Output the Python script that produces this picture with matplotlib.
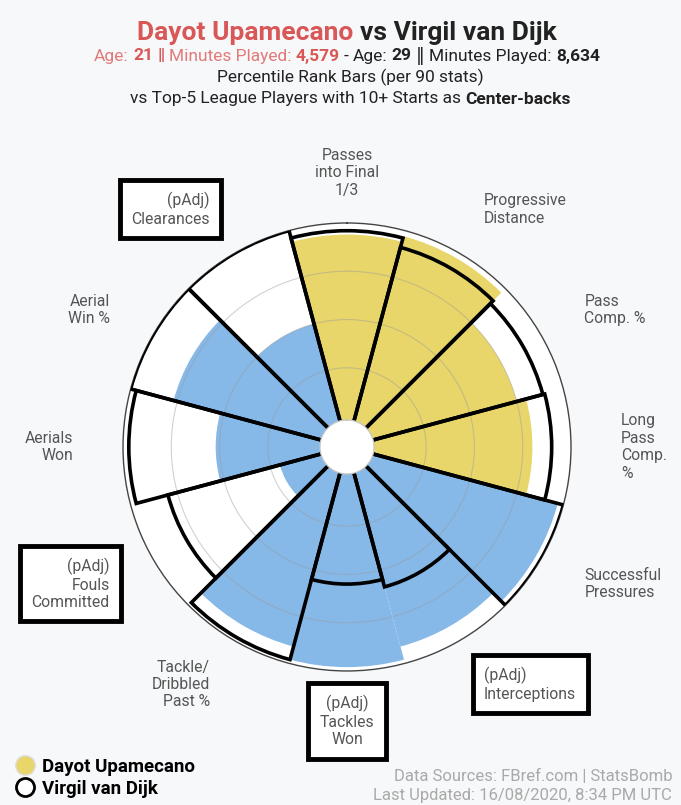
import numpy as np
import matplotlib.pyplot as plt
from matplotlib.lines import Line2D

plt.rcParams['font.family'] = ['Roboto', 'DejaVu Sans']

# %% Daten (Perzentile, per 90)
categories = ["Passes\ninto Final\n1/3", "Progressive\nDistance", "Pass\nComp. %",
              "Long\nPass\nComp.\n%", "Successful\nPressures", "(pAdj)\nInterceptions",
              "(pAdj)\nTackles\nWon", "Tackle/\nDribbled\nPast %", "(pAdj)\nFouls\nCommitted",
              "Aerials\nWon", "Aerial\nWin %", "(pAdj)\nClearances"]
boxed = [False, False, False, False, False, True, True, False, True, False, False, True]
upamecano = [94, 97, 75, 80, 97, 91, 98, 91, 20, 52, 77, 50]
van_dijk = [96, 91, 89, 90, 100, 59, 55, 98, 80, 97, 100, 100]
group = ["pass"] * 4 + ["def"] * 8

YELLOW = "#e8d66a"
BLUE = "#86b8e8"
RED = "#d95757"
RED_LIGHT = "#e27a7a"
DARK = "#222222"
BG = "#f7f8fa"

# %% Figur
fig = plt.figure(figsize=(6.81, 8.05), dpi=100, facecolor=BG)
ax = fig.add_axes([0.1806, 0.1665, 0.6579, 0.5565], projection="polar")
ax.set_facecolor("white")
ax.set_theta_offset(np.pi / 2)
ax.set_theta_direction(-1)
ax.set_ylim(-16, 100)

n = len(categories)
theta = np.arange(n) * 2 * np.pi / n
width = 2 * np.pi / n
base = -16

vvd_h = np.array(van_dijk) - base
up_h = np.array(upamecano) - base
cols = [YELLOW if g == "pass" else BLUE for g in group]

ax.bar(theta, vvd_h, width=width, bottom=base, color="white", zorder=1)
ax.bar(theta, up_h, width=width, bottom=base, color=cols, zorder=2)
ax.set_axisbelow(False)
ax.set_rgrids([25, 50, 75], labels=["", "", ""])
ax.yaxis.grid(True, color="#9a9a9a", lw=0.8, alpha=0.45)
ax.xaxis.grid(False)
ax.set_xticks([])
ax.bar(theta, vvd_h, width=width, bottom=base, fill=False, edgecolor="black",
       lw=2.6, zorder=3)
# Loch in der Mitte
ax.bar(0, 14, width=2 * np.pi, bottom=base, color="white", edgecolor="none",
       zorder=4)
ring = np.linspace(0, 2 * np.pi, 200)
ax.plot(ring, np.full_like(ring, -2.0), color="#c4c4c4", lw=0.9, zorder=4.5)
ax.spines["polar"].set_color("#444444")
ax.spines["polar"].set_linewidth(1.0)

# Beschriftungen
for th, lab, box in zip(theta, categories, boxed):
    ang = np.pi / 2 - th
    c = np.cos(ang)
    if c > 0.1:
        ha = "left"
    elif c < -0.1:
        ha = "right"
    else:
        ha = "center"
    kw = {}
    if box:
        kw["bbox"] = dict(boxstyle="square,pad=0.72", fc="white", ec="black", lw=3.5)
    ax.text(th, 126, lab, ha=ha, va="center", ma=ha, fontsize=11.3,
            color="#555555", zorder=5, linespacing=1.2, **kw)

# %% Titel (mehrfarbig)
renderer = fig.canvas.get_renderer()
W = fig.get_figwidth() * fig.dpi


def rich_line(y, pieces, size, xc=347):
    texts = []
    for s, col, wt in pieces:
        texts.append(fig.text(0, y, s, color=col, fontweight=wt, fontsize=size,
                              va="center", ha="left"))
    sp = fig.text(0, 0, "a a", fontsize=size)
    sp2 = fig.text(0, 0, "aa", fontsize=size)
    gap = sp.get_window_extent(renderer).width - sp2.get_window_extent(renderer).width
    sp.remove()
    sp2.remove()
    widths = [t.get_window_extent(renderer).width for t in texts]
    total = sum(widths) + gap * (len(texts) - 1)
    x = xc - total / 2
    for t, w in zip(texts, widths):
        t.set_x(x / W)
        x += w + gap


rich_line(1 - 33 / 805, [("Dayot Upamecano", RED, "bold"),
                         ("vs Virgil van Dijk", DARK, "bold")], 19)
rich_line(1 - 56 / 805, [("Age:", RED_LIGHT, "normal"), ("21", RED, "bold"),
                         ("\u2016", RED, "bold"), ("Minutes Played:", RED_LIGHT, "normal"),
                         ("4,579", RED, "bold"), ("-", DARK, "normal"),
                         ("Age:", DARK, "normal"), ("29", DARK, "bold"),
                         ("\u2016", DARK, "normal"), ("Minutes Played:", DARK, "normal"),
                         ("8,634", DARK, "bold")], 12.5)
fig.text(350 / W, 1 - 77 / 805, "Percentile Rank Bars (per 90 stats)", ha="center",
         va="center", fontsize=12.5, color=DARK)
rich_line(1 - 99 / 805, [("vs Top-5 League Players with 10+ Starts as", DARK, "normal"),
                         ("Center-backs", DARK, "bold")], 12.5, xc=350)

# %% Legende und Quellen
handles = [Line2D([], [], marker="o", ls="", markersize=14, markerfacecolor=YELLOW,
                  markeredgecolor="#dddddd", markeredgewidth=1),
           Line2D([], [], marker="o", ls="", markersize=13, markerfacecolor="white",
                  markeredgecolor="black", markeredgewidth=2)]
fig.legend(handles, ["Dayot Upamecano", "Virgil van Dijk"], loc="lower left",
           bbox_to_anchor=(0.0, -0.012), frameon=False, handlelength=0.9,
           handletextpad=0.45, labelspacing=0.2,
           prop={"weight": "bold", "size": 13.5})
fig.text(0.987, 1 - 776 / 805, "Data Sources: FBref.com | StatsBomb", ha="right",
         va="center", fontsize=12, color="#a9a9a9")
fig.text(0.987, 1 - 795 / 805, "Last Updated: 16/08/2020, 8:34 PM UTC", ha="right",
         va="center", fontsize=12, color="#a9a9a9")

plt.savefig("out.png", dpi=100, facecolor=BG)
